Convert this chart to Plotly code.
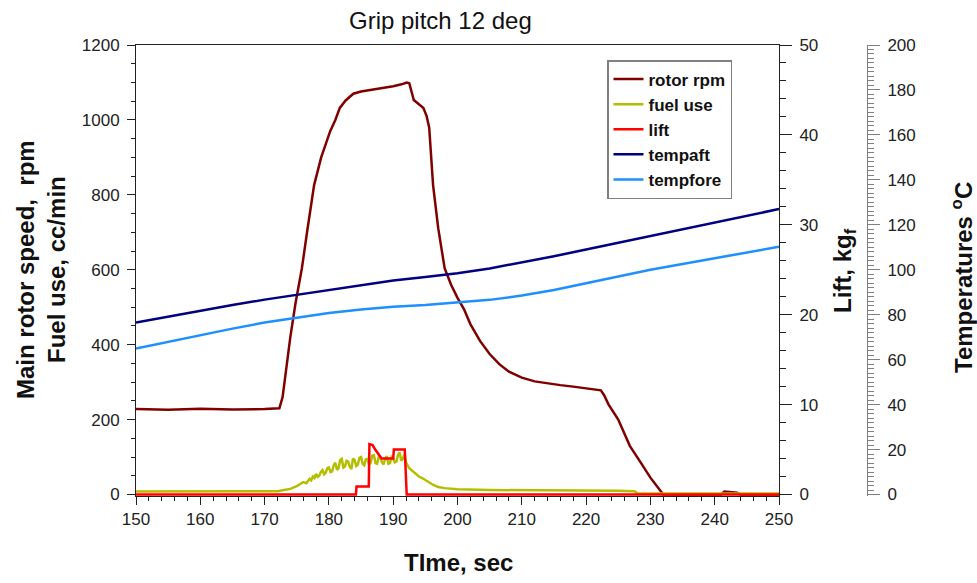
import plotly.graph_objects as go

# ---------------- data ----------------
rotor_t = [150, 155, 160, 165, 170, 172.3, 172.8, 173.3, 174, 174.8, 175.8, 176.6, 177.7, 178.8,
           180.2, 181, 181.7, 182.6, 183.8, 185, 186.5, 188.4, 190, 191.3, 192.1, 192.5, 193.2,
           194, 194.7, 195.2, 195.6, 196.2, 197, 198, 199, 200, 201, 202, 203.5, 205, 206.5, 208,
           210, 212, 214, 216, 218, 220, 222.3, 222.8, 223.5, 225, 226.8, 228.5, 230, 232, 236,
           240, 241, 241.5, 242.5, 243.5, 244, 250]
rotor_rpm = [228, 226, 229, 227, 228, 230, 260, 330, 420, 510, 604, 700, 826, 900,
             970, 1000, 1032, 1052, 1070, 1076, 1080, 1085, 1090, 1095, 1100, 1098, 1053,
             1042, 1032, 1010, 979, 826, 711, 604, 560, 525, 495, 455, 410, 375, 348, 328,
             312, 302, 296, 292, 288, 284, 278, 265, 240, 200, 130, 85, 45, 0, 0,
             0, 0, 8, 6, 5, 0, 0]

fuel_t = [150, 160, 170, 172, 173, 174, 175, 175.5, 176, 176.5,
          177, 177.25, 177.5, 177.75, 178, 178.25, 178.5, 178.75, 179, 179.25,
          179.5, 179.75, 180, 180.25, 180.5, 180.75, 181, 181.25, 181.5, 181.75,
          182, 182.25, 182.5, 182.75, 183, 183.25, 183.5, 183.75, 184, 184.25,
          184.5, 184.75, 185, 185.25, 185.5, 185.75, 186, 186.25, 186.5, 186.75,
          187, 187.25, 187.5, 187.75, 188, 188.25, 188.5, 188.75, 189, 189.25,
          189.5, 189.75, 190, 190.25, 190.5, 190.75, 191, 191.25, 191.5, 191.75,
          192, 192.5, 193, 193.5, 194, 194.5, 195, 195.5, 196, 196.5,
          197, 198, 200, 205, 210, 215, 220, 225, 227.5, 228, 240, 250]
fuel_use = [8, 8, 9, 9, 12, 15, 22, 28, 33, 30,
            42, 38, 48, 44, 55, 47, 50, 60, 65, 54,
            58, 70, 72, 60, 62, 78, 85, 66, 70, 92,
            95, 72, 75, 90, 88, 74, 68, 96, 92, 76,
            80, 98, 100, 82, 78, 94, 95, 80, 85, 104,
            105, 84, 82, 100, 98, 86, 80, 96, 102, 82,
            84, 100, 96, 86, 88, 106, 112, 90, 95, 108,
            85, 70, 62, 55, 48, 44, 38, 33, 28, 24,
            20, 17, 14, 12, 12, 11, 11, 10, 9, 3, 3, 3]

lift_t = [150, 184.2, 184.3, 186.2, 186.3, 186.8, 187.2, 187.6, 188.2, 190.0, 190.1, 191.8, 192.1, 250]
lift_kgf = [0, 0, 0.9, 0.9, 5.6, 5.5, 5.0, 4.6, 4.0, 4.0, 5.0, 5.0, 0, 0]

temp_t = [150, 155, 160, 165, 170, 175, 180, 185, 190, 195, 200, 205, 210, 215, 220, 225, 230,
          235, 240, 245, 250]
tempaft = [76.5, 79.2, 81.8, 84.3, 86.7, 88.9, 91.0, 93.1, 95.2, 96.8, 98.4, 100.6, 103.2,
           106.0, 109.0, 112.0, 115.0, 118.0, 121.0, 124.0, 127.0]
tempfore = [65.0, 68.0, 70.8, 73.8, 76.5, 78.8, 80.8, 82.3, 83.5, 84.3, 85.3, 86.6, 88.5,
            91.0, 94.0, 97.0, 100.0, 102.6, 105.2, 107.8, 110.2]

# ---------------- figure ----------------
FONT = "Liberation Sans, Arial, sans-serif"
AX = "#222222"
fig = go.Figure()

fig.add_trace(go.Scatter(x=rotor_t, y=rotor_rpm, name="rotor rpm", mode="lines",
                         line=dict(color="#800000", width=2.5), yaxis="y"))
fig.add_trace(go.Scatter(x=fuel_t, y=fuel_use, name="fuel use", mode="lines",
                         line=dict(color="#B4BE00", width=2.5), yaxis="y"))
fig.add_trace(go.Scatter(x=lift_t, y=lift_kgf, name="lift", mode="lines",
                         line=dict(color="#FF0000", width=2.5), yaxis="y2"))
fig.add_trace(go.Scatter(x=temp_t, y=tempaft, name="tempaft", mode="lines",
                         line=dict(color="#000080", width=2.5), yaxis="y3"))
fig.add_trace(go.Scatter(x=temp_t, y=tempfore, name="tempfore", mode="lines",
                         line=dict(color="#1E8FFF", width=2.5), yaxis="y3"))

tickfont = dict(family=FONT, size=17, color=AX)
dom_end = (779 - 136) / 831

fig.update_layout(
    width=977, height=583,
    margin=dict(l=136, r=10, t=45, b=87, autoexpand=False),
    paper_bgcolor="white", plot_bgcolor="white",
    showlegend=True,
    xaxis=dict(domain=[0, dom_end], range=[150, 250], dtick=10, tick0=150, automargin=False,
               ticks="outside", ticklen=8, tickcolor=AX, tickwidth=1,
               minor=dict(dtick=2, ticks="outside", ticklen=4, tickcolor=AX),
               showline=True, linecolor=AX, linewidth=1, mirror=True,
               showgrid=False, zeroline=False, tickfont=tickfont),
    yaxis=dict(range=[-4, 1200], dtick=200, tick0=0, automargin=False,
               ticks="outside", ticklen=8, tickcolor=AX,
               minor=dict(dtick=50, ticks="outside", ticklen=4, tickcolor=AX),
               showline=True, linecolor=AX, linewidth=1,
               showgrid=False, zeroline=False, tickfont=tickfont, ticklabelstandoff=4),
    yaxis2=dict(range=[-4 / 24, 50], dtick=10, tick0=0, overlaying="y", side="right",
                anchor="x", automargin=False, ticks="outside", ticklen=12, tickcolor=AX,
                minor=dict(dtick=2, ticks="outside", ticklen=6, tickcolor=AX),
                showline=True, linecolor=AX, linewidth=1,
                showgrid=False, zeroline=False, tickfont=tickfont, ticklabelstandoff=4),
    yaxis3=dict(range=[-4 / 6, 200], dtick=20, tick0=0, overlaying="y", side="right",
                anchor="free", position=(867 - 136) / 831, automargin=False,
                ticks="outside", ticklen=12, tickcolor="#808080",
                minor=dict(dtick=2, ticks="outside", ticklen=6, tickcolor="#808080"),
                showline=True, linecolor="#808080", linewidth=1,
                showgrid=False, zeroline=False, tickfont=tickfont, ticklabelstandoff=4),
    legend=dict(x=(607 - 136) / 831, y=(496 - 60) / 451, xanchor="left", yanchor="top",
                bgcolor="white", bordercolor="#808080", borderwidth=1.5,
                font=dict(family=FONT, size=17, color="#111", weight="bold"),
                tracegroupgap=0),
)

title_font = dict(family=FONT, size=24, color="#111")
fig.add_annotation(text="Grip pitch 12 deg", xref="paper", yref="paper",
                   x=(440 - 136) / 831, y=(496 - 20) / 451, showarrow=False,
                   xanchor="center", yanchor="middle", font=title_font)
fig.add_annotation(text="<b>TIme, sec</b>", xref="paper", yref="paper",
                   x=(458 - 136) / 831, y=(496 - 562) / 451, showarrow=False,
                   xanchor="center", yanchor="middle", font=title_font)
fig.add_annotation(text="<b>Main rotor speed,  rpm<br>Fuel use, cc/min</b>", xref="paper",
                   yref="paper", x=(41 - 136) / 831, y=(496 - 270) / 451, showarrow=False,
                   textangle=-90, xanchor="center", yanchor="middle", font=title_font)
fig.add_annotation(text="<b>Lift, kg<sub>f</sub></b>", xref="paper", yref="paper",
                   x=(844 - 136) / 831, y=(496 - 271) / 451, showarrow=False,
                   textangle=-90, xanchor="center", yanchor="middle", font=title_font)
fig.add_annotation(text="<b>Temperatures <sup>o</sup>C</b>", xref="paper", yref="paper",
                   x=(962 - 136) / 831, y=(496 - 278) / 451, showarrow=False,
                   textangle=-90, xanchor="center", yanchor="middle", font=title_font)

fig.write_html("out.html")
